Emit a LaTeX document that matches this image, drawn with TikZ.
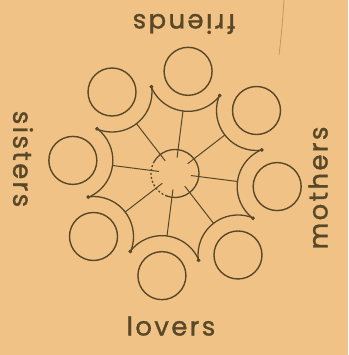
\documentclass[tikz,border=0pt]{standalone}
\usepackage{fontspec}
\setmainfont{Poppins}[LetterSpace=9, FakeBold=1.2]
\usetikzlibrary{calc}
\definecolor{paper}{RGB}{240,194,134}
\definecolor{ink}{RGB}{88,72,40}
\definecolor{crease}{RGB}{200,150,95}
\begin{document}
\begin{tikzpicture}[x=1pt,y=1pt,
  ring/.style={draw=ink, line width=1.4pt, circle, minimum size=48pt, inner sep=0pt},
  web/.style={draw=ink, line width=1.3pt},
  spoke/.style={draw=ink, line width=1pt},
  lab/.style={text=ink, font=\fontsize{26}{26}\selectfont, inner sep=0pt}]
\fill[paper] (0,0) rectangle (348,355);
\useasboundingbox (0,0) rectangle (348,355);
\draw[crease, line width=0.8pt] (284,355) .. controls (283,340) and (282,325) .. (279,300);
\coordinate (O) at (175,181.5);
\node[circle, minimum size=48pt, inner sep=0pt] (hub) at (O) {};
\draw[web] ($(hub.center)+(-110:24)$) arc[start angle=-110, end angle=150, radius=24];
\draw[web, dash pattern=on 2pt off 2pt] ($(hub.center)+(150:24)$) arc[start angle=150, end angle=250, radius=24];
\foreach \k in {0,...,7}{
  \pgfmathsetmacro\t{82.7+45*\k}
  \node[ring] (c\k) at ($(O)+(\t:103)$) {};
  \coordinate (in\k) at ($(O)+(\t:16)$);
  \coordinate (out\k) at ($(O)+(\t:63)$);
  \draw[spoke] (in\k) -- (out\k);
  \draw[web] ($(c\k.center)+(\t+120:40)$) coordinate (a\k)
     arc[start angle=\t+120, end angle=\t+240, radius=40] coordinate (b\k);
  \fill[ink] (a\k) circle (1.8);
  \fill[ink] (b\k) circle (1.8);
}
\node[lab, rotate=180] (friends) at (184,331) {friends};
\node[lab] (lovers) at (171,29) {lovers};
\node[lab, rotate=90] (mothers) at (318,167) {mothers};
\node[lab, rotate=-90] (sisters) at (23,196) {sisters};
\end{tikzpicture}
\end{document}
